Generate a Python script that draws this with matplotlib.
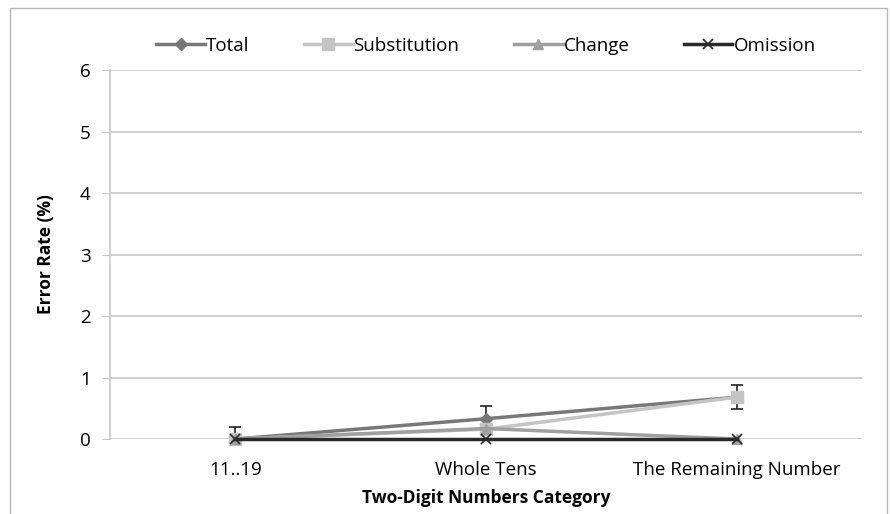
import matplotlib
matplotlib.use("Agg")
import matplotlib.pyplot as plt
from matplotlib.patches import Rectangle

plt.rcParams["font.family"] = ["Open Sans", "DejaVu Sans"]

categories = ["11..19", "Whole Tens", "The Remaining Number"]
total = [0.0, 0.33, 0.68]
substitution = [0.0, 0.16, 0.68]
change = [0.0, 0.17, 0.0]
omission = [0.0, 0.0, 0.0]
total_err = [0.2, 0.2, 0.2]

C_TOTAL = "#787878"
C_SUBST = "#c4c4c4"
C_CHANGE = "#a0a0a0"
C_OMIT = "#2a2a2a"
C_GRID = "#c8c8c8"

fig = plt.figure(figsize=(8.9, 5.14), dpi=100)
ax = fig.add_axes([0.1236, 0.1459, 0.8449, 0.7179])

# frame round the whole chart area
fig.patches.append(Rectangle((10 / 890, -0.02), 877 / 890, 1.02 - 8 / 514,
                             transform=fig.transFigure, fill=False,
                             edgecolor="#b8b8b8", linewidth=1.0))

x = list(range(len(categories)))

# error bars stay inside the plot, so nothing shows below zero
ax.errorbar(x, total, yerr=total_err, fmt="none", ecolor="#222222",
            elinewidth=1.2, capsize=4, capthick=1.2, zorder=2)

ax.plot(x, total, color=C_TOTAL, lw=2.5, marker="D", ms=6,
        label="Total", zorder=3, clip_on=False)
ax.plot(x, substitution, color=C_SUBST, lw=2.5, marker="s", ms=8,
        label="Substitution", zorder=4, clip_on=False)
ax.plot(x, change, color=C_CHANGE, lw=2.5, marker="^", ms=7,
        label="Change", zorder=5, clip_on=False)
ax.plot(x, omission, color=C_OMIT, lw=2.5, marker="x", ms=7, mew=1.2,
        label="Omission", zorder=6, clip_on=False)

ax.set_xlim(-0.5, 2.5)
ax.set_ylim(0, 6)
ax.set_yticks(range(0, 7))
ax.set_xticks(x)
ax.set_xticklabels(categories, fontsize=13.5)
ax.tick_params(axis="y", labelsize=13.5, length=6, color=C_GRID, pad=8)
ax.tick_params(axis="x", length=0, pad=16)
ax.grid(axis="y", color=C_GRID, lw=1.2)
ax.set_axisbelow(True)

for s in ["top", "right", "bottom"]:
    ax.spines[s].set_visible(False)
ax.spines["left"].set_color(C_GRID)
ax.spines["left"].set_linewidth(1.2)

ax.set_ylabel("Error Rate (%)", fontsize=12.5, fontweight="bold", labelpad=18)
ax.set_xlabel("Two-Digit Numbers Category", fontsize=12.5, fontweight="bold",
              labelpad=7)

ax.legend(loc="lower center", bbox_to_anchor=(0.5, 1.005), ncol=4,
          frameon=False, fontsize=13.5, handlelength=2.6, columnspacing=2.9,
          handletextpad=0.05, borderaxespad=0.3)

fig.savefig("out.png", dpi=100, facecolor="white")
